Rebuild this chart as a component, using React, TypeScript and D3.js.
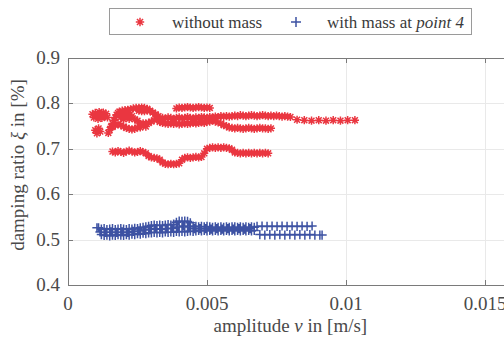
import React from "react";
import * as d3 from "d3";

// damping ratio [%] vs amplitude [m/s]
const redLeftBlob: [number, number][] = [
  [0.00088, 0.776], [0.00093, 0.769], [0.00098, 0.779], [0.00103, 0.772], [0.00108, 0.766],
  [0.00112, 0.781], [0.00117, 0.775], [0.00122, 0.768], [0.00127, 0.780], [0.00132, 0.772],
  [0.00137, 0.777], [0.00142, 0.769], [0.00098, 0.741], [0.00104, 0.734], [0.0011, 0.745],
  [0.00116, 0.738],
];
const redLoop: [number, number][] = [
  [0.00145, 0.735], [0.0015, 0.742], [0.00155, 0.749], [0.0016, 0.756], [0.00165, 0.763],
  [0.0017, 0.769], [0.00175, 0.775], [0.0018, 0.779],
  [0.00185, 0.782], [0.00195, 0.784], [0.00205, 0.785], [0.00215, 0.786], [0.00225, 0.787],
  [0.00235, 0.789], [0.00245, 0.79], [0.00255, 0.784], [0.00265, 0.783], [0.00275, 0.783],
  [0.00285, 0.784], [0.00255, 0.79], [0.00265, 0.791], [0.00275, 0.79], [0.00285, 0.788],
  [0.00295, 0.784], [0.00305, 0.78], [0.00315, 0.776], [0.00325, 0.772],
  [0.0016, 0.748], [0.0017, 0.752], [0.0018, 0.755], [0.0019, 0.752], [0.002, 0.749],
  [0.0021, 0.746], [0.0022, 0.744], [0.0023, 0.743], [0.0024, 0.744], [0.0025, 0.747],
  [0.0026, 0.755], [0.0027, 0.756], [0.0028, 0.756], [0.0029, 0.757], [0.003, 0.76],
  [0.0031, 0.763], [0.0032, 0.765], [0.0026, 0.747], [0.0028, 0.749],
  [0.0019, 0.77], [0.002, 0.765], [0.0021, 0.772], [0.0022, 0.766], [0.0023, 0.772],
  [0.0024, 0.765], [0.0025, 0.762], [0.002, 0.776], [0.00215, 0.778],
];
const redMiddle: [number, number][] = [
  [0.0033, 0.766], [0.0034, 0.768], [0.0035, 0.767], [0.0036, 0.769], [0.0037, 0.768],
  [0.0038, 0.766], [0.0039, 0.768], [0.004, 0.769], [0.0041, 0.767], [0.0042, 0.768],
  [0.0043, 0.77], [0.0044, 0.768], [0.0045, 0.767], [0.0046, 0.769], [0.0047, 0.768],
  [0.0048, 0.77], [0.0049, 0.769], [0.005, 0.768], [0.0051, 0.77], [0.0052, 0.769],
  [0.0053, 0.771], [0.0054, 0.77], [0.0055, 0.772], [0.0056, 0.771], [0.0057, 0.772],
  [0.0033, 0.759], [0.0034, 0.757], [0.0035, 0.756], [0.0036, 0.755], [0.0037, 0.756],
  [0.0038, 0.755], [0.0039, 0.756], [0.004, 0.754], [0.0041, 0.755], [0.0042, 0.756],
  [0.0043, 0.755], [0.0044, 0.756], [0.0045, 0.757], [0.0046, 0.756], [0.0047, 0.757],
  [0.0048, 0.758], [0.0049, 0.757], [0.005, 0.759], [0.0051, 0.76], [0.0052, 0.762],
  [0.0053, 0.76], [0.0054, 0.758], [0.0055, 0.756], [0.0056, 0.752], [0.0057, 0.75],
  [0.0058, 0.771], [0.0059, 0.772], [0.006, 0.773], [0.0061, 0.772], [0.0062, 0.774],
  [0.0063, 0.773], [0.0064, 0.772], [0.0065, 0.773], [0.0066, 0.774], [0.0067, 0.773],
  [0.0068, 0.772], [0.0069, 0.773], [0.007, 0.774], [0.0071, 0.773], [0.0072, 0.772],
  [0.0073, 0.773], [0.0074, 0.772], [0.0075, 0.773], [0.0076, 0.772], [0.0077, 0.771],
  [0.0078, 0.772], [0.0079, 0.771], [0.008, 0.77],
];
const redTrail: [number, number][] = [
  [0.00824, 0.764], [0.0085, 0.763], [0.00876, 0.762], [0.00902, 0.763], [0.00928, 0.762],
  [0.00954, 0.763], [0.0098, 0.762], [0.01006, 0.763], [0.01032, 0.763],
];
const redLowerRight: [number, number][] = [
  [0.0058, 0.747], [0.0059, 0.746], [0.006, 0.745], [0.0061, 0.746], [0.0062, 0.745],
  [0.0063, 0.744], [0.0064, 0.745], [0.0065, 0.746], [0.0066, 0.745], [0.0067, 0.744],
  [0.0068, 0.745], [0.0069, 0.746], [0.007, 0.745], [0.0071, 0.745], [0.0072, 0.744],
  [0.0073, 0.745],
];
const redUpper: [number, number][] = [
  [0.0039, 0.789], [0.004, 0.791], [0.0041, 0.79], [0.0042, 0.791], [0.0043, 0.792],
  [0.0044, 0.791], [0.0045, 0.79], [0.0046, 0.791], [0.0047, 0.792], [0.0048, 0.791],
  [0.0049, 0.79], [0.005, 0.791], [0.0051, 0.79],
];
const redLow: [number, number][] = [
  [0.0016, 0.694], [0.0017, 0.692], [0.0018, 0.695], [0.0019, 0.693], [0.002, 0.691],
  [0.0021, 0.694], [0.0022, 0.696], [0.0023, 0.694], [0.0024, 0.692], [0.0025, 0.693],
  [0.0026, 0.695], [0.0027, 0.693], [0.0028, 0.69],
  [0.0029, 0.684], [0.003, 0.681], [0.0031, 0.68], [0.0032, 0.679], [0.0033, 0.676],
  [0.0034, 0.67], [0.0035, 0.667], [0.0036, 0.666], [0.0037, 0.667], [0.0038, 0.666],
  [0.0039, 0.667], [0.004, 0.668],
  [0.0041, 0.676], [0.0042, 0.68], [0.0043, 0.681], [0.0044, 0.68], [0.0045, 0.681],
  [0.0046, 0.682], [0.0047, 0.681], [0.0048, 0.682], [0.0049, 0.69],
  [0.005, 0.7], [0.0051, 0.702], [0.0052, 0.703], [0.0053, 0.702], [0.0054, 0.703],
  [0.0055, 0.702], [0.0056, 0.703], [0.0057, 0.702], [0.0058, 0.701], [0.0059, 0.698],
  [0.006, 0.692], [0.0061, 0.691], [0.0062, 0.69], [0.0063, 0.691], [0.0064, 0.69],
  [0.0065, 0.691], [0.0066, 0.69], [0.0067, 0.691], [0.0068, 0.69], [0.0069, 0.691],
  [0.007, 0.69], [0.0071, 0.691], [0.0072, 0.69],
];

const blueUpper: [number, number][] = [
  [0.00104, 0.526], [0.0011, 0.526], [0.0012, 0.523], [0.0013, 0.524], [0.0014, 0.522],
  [0.0015, 0.523], [0.0016, 0.524], [0.0017, 0.522], [0.0018, 0.523], [0.0019, 0.524],
  [0.002, 0.523], [0.0021, 0.522], [0.0022, 0.524], [0.0023, 0.523], [0.0024, 0.525],
  [0.0025, 0.524], [0.0026, 0.526], [0.0027, 0.527], [0.0028, 0.528], [0.0029, 0.529],
  [0.003, 0.531], [0.0031, 0.532], [0.0032, 0.531], [0.0033, 0.532], [0.0034, 0.531],
  [0.0035, 0.532], [0.0036, 0.533], [0.0037, 0.532], [0.0038, 0.534], [0.0039, 0.538],
  [0.004, 0.541], [0.0041, 0.54], [0.0042, 0.541], [0.0043, 0.54], [0.0044, 0.537],
  [0.0045, 0.53], [0.0046, 0.529], [0.0047, 0.528], [0.0048, 0.529], [0.0049, 0.528],
  [0.005, 0.529], [0.0051, 0.528], [0.0052, 0.527], [0.0053, 0.528], [0.0054, 0.527],
  [0.0055, 0.528], [0.0056, 0.527], [0.0057, 0.528], [0.0058, 0.527], [0.0059, 0.528],
  [0.006, 0.528], [0.0061, 0.527], [0.0062, 0.528], [0.0063, 0.527], [0.0064, 0.528],
  [0.0065, 0.527], [0.0066, 0.528], [0.0067, 0.527],
];
const blueMiddle: [number, number][] = [
  [0.00115, 0.517], [0.00135, 0.516], [0.00155, 0.517], [0.00175, 0.516], [0.00195, 0.517],
  [0.00215, 0.516], [0.00235, 0.518], [0.00255, 0.519], [0.00275, 0.521], [0.00295, 0.523],
  [0.00315, 0.524], [0.00335, 0.523], [0.00355, 0.524], [0.00375, 0.525], [0.00395, 0.528],
  [0.00415, 0.53], [0.00435, 0.528], [0.00455, 0.524], [0.00475, 0.524], [0.00495, 0.524],
  [0.00515, 0.523], [0.00535, 0.524], [0.00555, 0.523], [0.00575, 0.524], [0.00595, 0.523],
  [0.00615, 0.524], [0.00635, 0.523], [0.00655, 0.524],
];
const blueLower: [number, number][] = [
  [0.0012, 0.511], [0.0013, 0.509], [0.0014, 0.51], [0.0015, 0.508], [0.0016, 0.51],
  [0.0017, 0.509], [0.0018, 0.511], [0.0019, 0.51], [0.002, 0.509], [0.0021, 0.511],
  [0.0022, 0.51], [0.0023, 0.512], [0.0024, 0.511], [0.0025, 0.513], [0.0026, 0.512],
  [0.0027, 0.514], [0.0028, 0.513], [0.0029, 0.515], [0.003, 0.515], [0.0031, 0.516],
  [0.0032, 0.515], [0.0033, 0.516], [0.0034, 0.515], [0.0035, 0.517], [0.0036, 0.516],
  [0.0037, 0.517], [0.0038, 0.516], [0.0039, 0.518], [0.004, 0.517], [0.0041, 0.518],
  [0.0042, 0.517], [0.0043, 0.518], [0.0044, 0.519], [0.0045, 0.518], [0.0046, 0.519],
  [0.0047, 0.52], [0.0048, 0.519], [0.0049, 0.52], [0.005, 0.519], [0.0051, 0.52],
  [0.0052, 0.519], [0.0053, 0.52], [0.0054, 0.519], [0.0055, 0.52], [0.0056, 0.519],
  [0.0057, 0.52], [0.0058, 0.519], [0.0059, 0.52], [0.006, 0.519], [0.0061, 0.52],
  [0.0062, 0.519], [0.0063, 0.52], [0.0064, 0.519], [0.0065, 0.52], [0.0066, 0.519],
  [0.0067, 0.52],
];
const blueTail: [number, number][] = [
  [0.0068, 0.529], [0.00698, 0.53], [0.00716, 0.529], [0.00734, 0.53], [0.00752, 0.529],
  [0.0077, 0.53], [0.00788, 0.529], [0.00806, 0.53], [0.00824, 0.529], [0.00842, 0.53],
  [0.0086, 0.529], [0.00878, 0.53],
  [0.0069, 0.511], [0.00708, 0.51], [0.00726, 0.511], [0.00744, 0.51], [0.00762, 0.511],
  [0.0078, 0.51], [0.00798, 0.511], [0.00816, 0.51], [0.00834, 0.511], [0.00852, 0.51],
  [0.0087, 0.511], [0.00888, 0.51], [0.00906, 0.51], [0.00914, 0.51],
];

const withoutMass = [...redLeftBlob, ...redLoop, ...redMiddle, ...redTrail, ...redLowerRight, ...redUpper, ...redLow];
const withMass = [...blueUpper, ...blueMiddle, ...blueLower, ...blueTail];

const xTicks = [0, 0.005, 0.01, 0.015];
const xTickLabels = ["0", "0.005", "0.01", "0.015"];
const yTicks = [0.4, 0.5, 0.6, 0.7, 0.8, 0.9];
const yTickLabels = ["0.4", "0.5", "0.6", "0.7", "0.8", "0.9"];
const legendLabels = ["without mass", "with mass at "];

const RED = "#ea3640";
const BLUE = "#3d52a3";
const AXIS = "#7a7a7a";
const TEXT = "#4a4a4a";
const FONT = "'Liberation Serif', 'Times New Roman', serif";

const starPath = (x: number, y: number, r: number) => {
  const d = r * 0.72;
  return `M${x - r},${y}h${2 * r}M${x},${y - r}v${2 * r}M${x - d},${y - d}l${2 * d},${2 * d}M${x - d},${y + d}l${2 * d},${-2 * d}`;
};
const plusPath = (x: number, y: number, r: number) => `M${x - r},${y}h${2 * r}M${x},${y - r}v${2 * r}`;

export default function App() {
  const width = 504;
  const height = 338;
  const margin = { top: 58, left: 68, bottom: 53 };
  const x = d3.scaleLinear().domain([0, 0.016]).range([margin.left, margin.left + 0.016 * 27800]);
  const y = d3.scaleLinear().domain([0.4, 0.9]).range([height - margin.bottom, margin.top]);
  const [x0, x1] = x.range();
  const [yb, yt] = y.range();

  const redD = withoutMass.map(([v, z]) => starPath(x(v), y(z), 4.1)).join("");
  const blueD = withMass.map(([v, z]) => plusPath(x(v), y(z), 4.6)).join("");

  return (
    <svg width={width} height={height} style={{ position: "absolute", left: 0, top: 0, background: "#fff" }} fontFamily={FONT}>
      <rect x={x0} y={yt} width={x1 - x0} height={yb - yt} fill="#fff" />
      <g stroke="#e9e9e9" strokeWidth={1}>
        {xTicks.slice(1).map((t) => (
          <line key={t} x1={Math.round(x(t)) + 0.5} x2={Math.round(x(t)) + 0.5} y1={yt} y2={yb} />
        ))}
        {yTicks.slice(1, -1).map((t) => (
          <line key={t} x1={x0} x2={x1} y1={Math.round(y(t)) + 0.5} y2={Math.round(y(t)) + 0.5} />
        ))}
      </g>
      <path d={redD} stroke={RED} strokeWidth={1.5} fill="none" />
      <path d={blueD} stroke={BLUE} strokeWidth={1.5} fill="none" />
      <g stroke={AXIS} strokeWidth={1} fill="none">
        <rect x={Math.round(x0) + 0.5} y={Math.round(yt) + 0.5} width={x1 - x0} height={Math.round(yb) - Math.round(yt)} />
        {xTicks.map((t) => (
          <g key={t}>
            <line x1={Math.round(x(t)) + 0.5} x2={Math.round(x(t)) + 0.5} y1={yb} y2={yb - 5} />
            <line x1={Math.round(x(t)) + 0.5} x2={Math.round(x(t)) + 0.5} y1={yt} y2={yt + 5} />
          </g>
        ))}
        {yTicks.map((t) => (
          <line key={t} x1={x0} x2={x0 + 5} y1={Math.round(y(t)) + 0.5} y2={Math.round(y(t)) + 0.5} />
        ))}
      </g>
      <g fill={TEXT} fontSize={19}>
        {xTicks.map((t, i) => (
          <text key={t} x={x(t)} y={yb + 25} textAnchor="middle">{xTickLabels[i]}</text>
        ))}
        {yTicks.map((t, i) => (
          <text key={t} x={x0 - 8} y={y(t) + 6} textAnchor="end">{yTickLabels[i]}</text>
        ))}
        <text x={(x0 + x1) / 2} y={332} textAnchor="middle">
          amplitude <tspan fontStyle="italic">v</tspan> in [m/s]
        </text>
        <text transform={`translate(24,${165}) rotate(-90)`} textAnchor="middle">
          damping ratio <tspan fontStyle="italic">ξ</tspan> in [%]
        </text>
      </g>
      <g>
        <rect x={109.5} y={8.5} width={362} height={26} fill="#fff" stroke="#9a9a9a" strokeWidth={1} />
        <path d={starPath(140, 22, 4.2)} stroke={RED} strokeWidth={1.5} fill="none" />
        <path d={plusPath(296, 22, 5)} stroke={BLUE} strokeWidth={1.5} fill="none" />
        <g fill="#3a3a3a" fontSize={17}>
          <text x={172} y={28}>{legendLabels[0]}</text>
          <text x={327} y={28}>
            {legendLabels[1]}<tspan fontStyle="italic">point 4</tspan>
          </text>
        </g>
      </g>
    </svg>
  );
}
